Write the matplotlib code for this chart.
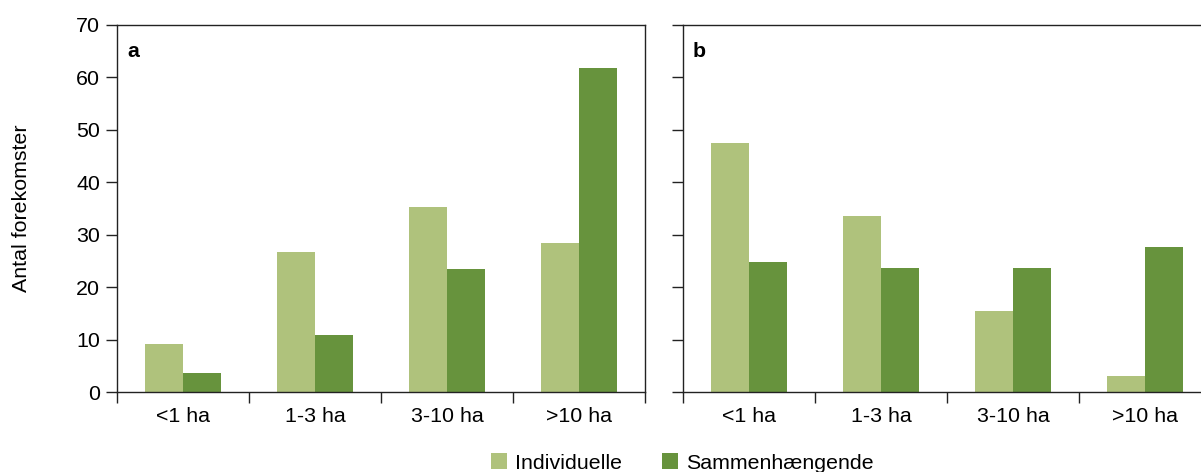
import numpy as np
import matplotlib
matplotlib.use("Agg")
import matplotlib.pyplot as plt
from matplotlib.patches import Patch

plt.rcParams['font.family'] = ['Liberation Sans', 'DejaVu Sans']

categories = ["<1 ha", "1-3 ha", "3-10 ha", ">10 ha"]
series_names = ["Individuelle", "Sammenhængende"]
# panel a
a_individuelle = [9.2, 26.7, 35.3, 28.4]
a_sammen = [3.6, 10.9, 23.5, 61.8]
# panel b
b_individuelle = [47.5, 33.6, 15.4, 3.0]
b_sammen = [24.8, 23.6, 23.6, 27.6]

light = "#afc27c"
dark = "#67933d"
fs = 15.4

fig = plt.figure(figsize=(12.01, 4.72), dpi=100)
ax_a = fig.add_axes([117/1201, 1-392/472, 528/1201, 367/472])
ax_b = fig.add_axes([683/1201, 1-392/472, 528/1201, 367/472])

w = 0.288
x = np.arange(len(categories))

def draw_panel(ax, ind, sam, letter, show_labels):
	ax.bar(x - w/2, ind, width=w, color=light, linewidth=0)
	ax.bar(x + w/2, sam, width=w, color=dark, linewidth=0)
	ax.set_xlim(-0.5, len(categories) - 0.5)
	ax.set_ylim(0, 70)
	ax.set_yticks(range(0, 71, 10))
	ax.set_xticks(np.arange(-0.5, len(categories), 1.0))
	ax.set_xticklabels([])
	ax.set_xticks(x, minor=True)
	ax.set_xticklabels(categories, minor=True, fontsize=fs)
	ax.tick_params(axis='x', which='major', direction='out', length=8, width=1, color='#222222')
	ax.tick_params(axis='x', which='minor', length=0, pad=11)
	ax.tick_params(axis='y', direction='out', length=8, width=1, color='#222222', labelsize=fs, pad=4)
	if not show_labels:
		ax.set_yticklabels([])
	for s in ax.spines.values():
		s.set_linewidth(1.0)
		s.set_color('#222222')
	ax.text(0.019, 0.955, letter, transform=ax.transAxes, fontsize=fs, fontweight='bold', va='top', ha='left')

draw_panel(ax_a, a_individuelle, a_sammen, "a", True)
draw_panel(ax_b, b_individuelle, b_sammen, "b", False)

fig.text(21.5/1201, 1-208.5/472, "Antal forekomster", rotation=90, va='center', ha='center', fontsize=fs)

# legend kept just inside the bottom edge so no text is clipped
handles = [Patch(facecolor=light, edgecolor='none'), Patch(facecolor=dark, edgecolor='none')]
fig.legend(handles, series_names, loc='center', bbox_to_anchor=(0.568, 0.019), ncol=2, frameon=False,
	fontsize=fs, handlelength=0.75, handleheight=0.75, handletextpad=0.37, columnspacing=1.86,
	borderpad=0, borderaxespad=0)

fig.savefig("out.png", dpi=100)
